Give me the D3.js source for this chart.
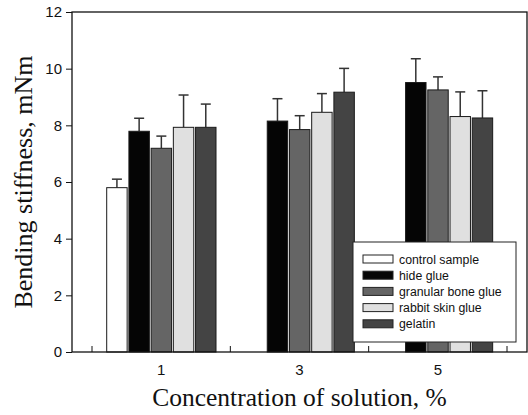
<html>
<script src="https://d3js.org/d3.v7.min.js"></script>
<style>
body{margin:0;background:#fff;}
svg{display:block;}
</style>
<body>
<div class="chart"></div>
<script>
const categories = ['1', '3', '5'];
const seriesNames = ['control sample', 'hide glue', 'granular bone glue', 'rabbit skin glue', 'gelatin'];
const seriesColors = ['#ffffff', '#050505', '#656565', '#e0e0e0', '#444444'];

// mean values per concentration (null = not measured)
const controlValues = [5.80, null, null];
const hideValues = [7.79, 8.15, 9.51];
const granularValues = [7.19, 7.85, 9.25];
const rabbitValues = [7.93, 8.46, 8.31];
const gelatinValues = [7.93, 9.17, 8.26];

// upper error bars
const controlErr = [0.30, null, null];
const hideErr = [0.46, 0.79, 0.84];
const granularErr = [0.43, 0.49, 0.46];
const rabbitErr = [1.14, 0.66, 0.87];
const gelatinErr = [0.82, 0.84, 0.96];

const yTicks = [0, 2, 4, 6, 8, 10, 12];

const allValues = [controlValues, hideValues, granularValues, rabbitValues, gelatinValues];
const allErrs = [controlErr, hideErr, granularErr, rabbitErr, gelatinErr];

const width = 528;
const height = 415;
const margin = {top: 12, left: 72, bottom: 63, right: 1};
const plotWidth = width - (margin.left + margin.right);
const plotHeight = height - (margin.top + margin.bottom);

const xScale = d3.scaleBand()
  .domain(categories)
  .range([20, plotWidth - 20]);

const innerScale = d3.scaleBand()
  .domain(seriesNames)
  .range([14.7, 124])
  .paddingInner(0.08);

const yScale = d3.scaleLinear()
  .domain([0, 12])
  .range([plotHeight, 0]);

const rows = [];
categories.forEach((c, ci) => {
  seriesNames.forEach((s, si) => {
    if (allValues[si][ci] != null) {
      rows.push({cat: c, series: s, color: seriesColors[si], value: allValues[si][ci], err: allErrs[si][ci]});
    }
  });
});

const svg = d3.select('.chart')
  .append('svg')
    .attr('width', width)
    .attr('height', height);

const plot = svg.append('g')
  .attr('transform', `translate(${margin.left},${margin.top})`);

// error bars (drawn first, bars sit over the lower part)
const eb = plot.selectAll('.err')
  .data(rows)
  .enter()
  .append('g')
    .attr('class', 'err')
    .attr('stroke', '#333')
    .attr('stroke-width', 1.5);

eb.append('line')
  .attr('x1', d => xScale(d.cat) + innerScale(d.series) + innerScale.bandwidth() / 2)
  .attr('x2', d => xScale(d.cat) + innerScale(d.series) + innerScale.bandwidth() / 2)
  .attr('y1', d => yScale(d.value))
  .attr('y2', d => yScale(d.value + d.err));

eb.append('line')
  .attr('x1', d => xScale(d.cat) + innerScale(d.series) + innerScale.bandwidth() / 2 - 5)
  .attr('x2', d => xScale(d.cat) + innerScale(d.series) + innerScale.bandwidth() / 2 + 5)
  .attr('y1', d => yScale(d.value + d.err))
  .attr('y2', d => yScale(d.value + d.err));

plot.selectAll('.bar')
  .data(rows)
  .enter()
  .append('rect')
    .attr('class', 'bar')
    .attr('x', d => xScale(d.cat) + innerScale(d.series))
    .attr('y', d => yScale(d.value))
    .attr('width', innerScale.bandwidth())
    .attr('height', d => plotHeight - yScale(d.value))
    .attr('fill', d => d.color)
    .attr('stroke', '#1a1a1a')
    .attr('stroke-width', 1);

// frame
plot.append('rect')
  .attr('x', 0)
  .attr('y', 0)
  .attr('width', plotWidth)
  .attr('height', plotHeight)
  .attr('fill', 'none')
  .attr('stroke', '#111')
  .attr('stroke-width', 1.3);

// y axis
const yAxis = plot.append('g')
  .call(d3.axisLeft(yScale).tickValues(yTicks).tickSize(6).tickPadding(4));
yAxis.select('.domain').remove();
yAxis.selectAll('text')
  .attr('font-family', 'Liberation Sans, Arial, sans-serif')
  .attr('font-size', 15)
  .attr('fill', '#111');
yAxis.selectAll('line').attr('stroke', '#111');

// x axis: labels at category centres, inward ticks at band edges
const xAxis = plot.append('g')
  .attr('transform', `translate(0,${plotHeight})`)
  .call(d3.axisBottom(xScale).tickSize(0).tickPadding(12));
xAxis.select('.domain').remove();
xAxis.selectAll('text')
  .attr('font-family', 'Liberation Sans, Arial, sans-serif')
  .attr('font-size', 15)
  .attr('fill', '#111');

const edges = categories.map(c => xScale(c)).concat([xScale(categories[categories.length - 1]) + xScale.bandwidth()]);
plot.selectAll('.xtick')
  .data(edges)
  .enter()
  .append('line')
    .attr('x1', d => d)
    .attr('x2', d => d)
    .attr('y1', plotHeight)
    .attr('y2', plotHeight - 6)
    .attr('stroke', '#111');

// axis titles
svg.append('text')
  .attr('transform', `translate(32,182) rotate(-90)`)
  .attr('text-anchor', 'middle')
  .attr('font-family', 'Liberation Serif, Times New Roman, serif')
  .attr('font-size', 26)
  .attr('fill', '#111')
  .text('Bending stiffness, mNm');

svg.append('text')
  .attr('x', margin.left + plotWidth / 2)
  .attr('y', 406)
  .attr('text-anchor', 'middle')
  .attr('font-family', 'Liberation Serif, Times New Roman, serif')
  .attr('font-size', 25.5)
  .attr('fill', '#111')
  .text('Concentration of solution, %');

// legend
const legend = svg.append('g')
  .attr('transform', 'translate(353,242)');

legend.append('rect')
  .attr('width', 163)
  .attr('height', 100)
  .attr('fill', '#fff')
  .attr('stroke', '#222')
  .attr('stroke-width', 1);

const item = legend.selectAll('.item')
  .data(seriesNames)
  .enter()
  .append('g')
    .attr('transform', (d, i) => `translate(10,${17 + i * 16.2})`);

item.append('rect')
  .attr('x', 0)
  .attr('y', -4)
  .attr('width', 30)
  .attr('height', 8)
  .attr('fill', (d, i) => seriesColors[i])
  .attr('stroke', '#222')
  .attr('stroke-width', 1);

item.append('text')
  .attr('x', 36)
  .attr('y', 4.5)
  .attr('font-family', 'Liberation Sans, Arial, sans-serif')
  .attr('font-size', 12.3)
  .attr('fill', '#111')
  .text(d => d);
</script>
</body>
</html>
